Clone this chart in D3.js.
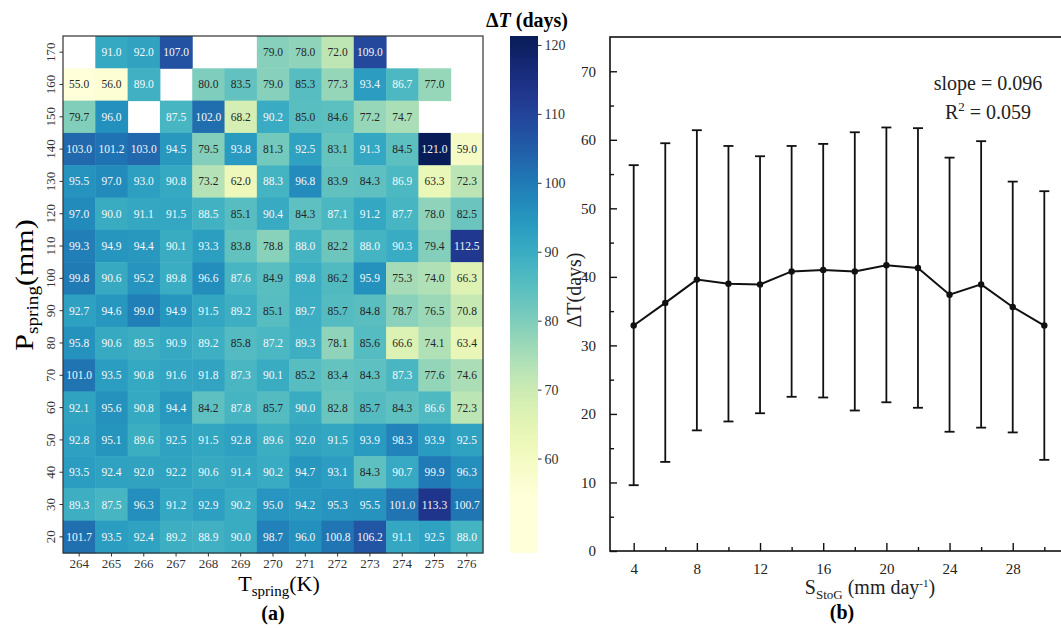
<!DOCTYPE html>
<html>
<head>
<meta charset="utf-8">
<script src="https://cdn.jsdelivr.net/npm/d3@7"></script>
<style>
  body { margin: 0; background: #fff; }
  svg { font-family: "Liberation Serif", "DejaVu Serif", serif; }
</style>
</head>
<body>
<svg id="chart" width="1061" height="628"></svg>
<script>
// panel (a): heatmap, rows top -> bottom
const tSpring = [264, 265, 266, 267, 268, 269, 270, 271, 272, 273, 274, 275, 276];
const pSpring = [170, 160, 150, 140, 130, 120, 110, 100, 90, 80, 70, 60, 50, 40, 30, 20];
const deltaT = [
  [null, 91.0, 92.0, 107.0, null, null, 79.0, 78.0, 72.0, 109.0, null, null, null],
  [55.0, 56.0, 89.0, null, 80.0, 83.5, 79.0, 85.3, 77.3, 93.4, 86.7, 77.0, null],
  [79.7, 96.0, null, 87.5, 102.0, 68.2, 90.2, 85.0, 84.6, 77.2, 74.7, null, null],
  [103.0, 101.2, 103.0, 94.5, 79.5, 93.8, 81.3, 92.5, 83.1, 91.3, 84.5, 121.0, 59.0],
  [95.5, 97.0, 93.0, 90.8, 73.2, 62.0, 88.3, 96.8, 83.9, 84.3, 86.9, 63.3, 72.3],
  [97.0, 90.0, 91.1, 91.5, 88.5, 85.1, 90.4, 84.3, 87.1, 91.2, 87.7, 78.0, 82.5],
  [99.3, 94.9, 94.4, 90.1, 93.3, 83.8, 78.8, 88.0, 82.2, 88.0, 90.3, 79.4, 112.5],
  [99.8, 90.6, 95.2, 89.8, 96.6, 87.6, 84.9, 89.8, 86.2, 95.9, 75.3, 74.0, 66.3],
  [92.7, 94.6, 99.0, 94.9, 91.5, 89.2, 85.1, 89.7, 85.7, 84.8, 78.7, 76.5, 70.8],
  [95.8, 90.6, 89.5, 90.9, 89.2, 85.8, 87.2, 89.3, 78.1, 85.6, 66.6, 74.1, 63.4],
  [101.0, 93.5, 90.8, 91.6, 91.8, 87.3, 90.1, 85.2, 83.4, 84.3, 87.3, 77.6, 74.6],
  [92.1, 95.6, 90.8, 94.4, 84.2, 87.8, 85.7, 90.0, 82.8, 85.7, 84.3, 86.6, 72.3],
  [92.8, 95.1, 89.6, 92.5, 91.5, 92.8, 89.6, 92.0, 91.5, 93.9, 98.3, 93.9, 92.5],
  [93.5, 92.4, 92.0, 92.2, 90.6, 91.4, 90.2, 94.7, 93.1, 84.3, 90.7, 99.9, 96.3],
  [89.3, 87.5, 96.3, 91.2, 92.9, 90.2, 95.0, 94.2, 95.3, 95.5, 101.0, 113.3, 100.7],
  [101.7, 93.5, 92.4, 89.2, 88.9, 90.0, 98.7, 96.0, 100.8, 106.2, 91.1, 92.5, 88.0]
];
const colorTicks = [60, 70, 80, 90, 100, 110, 120];

// panel (b): mean and error bar ends
const sStoG = [4, 6, 8, 10, 12, 14, 16, 18, 20, 22, 24, 26, 28, 30];
const meanDT = [32.9, 36.2, 39.6, 39.0, 38.9, 40.8, 41.0, 40.8, 41.7, 41.3, 37.4, 38.9, 35.6, 32.9];
const upperDT = [56.3, 59.5, 61.4, 59.1, 57.6, 59.1, 59.4, 61.1, 61.8, 61.7, 57.4, 59.8, 53.9, 52.5];
const lowerDT = [9.6, 13.0, 17.6, 18.9, 20.1, 22.5, 22.4, 20.5, 21.7, 20.9, 17.4, 18.0, 17.3, 13.3];
const yTicksB = [0, 10, 20, 30, 40, 50, 60, 70];
const xTicksB = [4, 8, 12, 16, 20, 24, 28];

document.addEventListener("DOMContentLoaded", function () {
  const svg = d3.select("#chart");

  // ---------- heatmap ----------
  const hm = { left: 63, top: 36, width: 420, height: 517 };
  const g = svg.append("g").attr("transform", `translate(${hm.left},${hm.top})`);

  const x = d3.scaleBand().domain(tSpring).range([0, hm.width]);
  const y = d3.scaleBand().domain(pSpring).range([0, hm.height]);
  const color = d3.scaleSequential(d3.interpolateYlGnBu).domain([55, 121]).clamp(true);

  const cells = [];
  pSpring.forEach((p, i) => {
    tSpring.forEach((t, j) => {
      if (deltaT[i][j] != null) cells.push({ t: t, p: p, v: deltaT[i][j] });
    });
  });

  g.selectAll(".cell")
    .data(cells)
    .enter()
    .append("rect")
    .attr("class", "cell")
    .attr("x", (d) => x(d.t))
    .attr("y", (d) => y(d.p))
    .attr("width", x.bandwidth() + 0.5)
    .attr("height", y.bandwidth() + 0.5)
    .style("fill", (d) => color(d.v));

  g.selectAll(".lbl")
    .data(cells)
    .enter()
    .append("text")
    .attr("class", "lbl")
    .attr("x", (d) => x(d.t) + x.bandwidth() / 2)
    .attr("y", (d) => y(d.p) + y.bandwidth() / 2 + 4)
    .attr("text-anchor", "middle")
    .style("font-size", "11.5px")
    .style("fill", (d) => (d.v > 86.4 ? "#f4f8fb" : "#262626"))
    .text((d) => d.v.toFixed(1));

  g.append("rect")
    .attr("width", hm.width)
    .attr("height", hm.height)
    .attr("fill", "none")
    .attr("stroke", "#333")
    .attr("stroke-width", 1.2);

  const xAxis = g.append("g")
    .attr("transform", `translate(0,${hm.height})`)
    .call(d3.axisBottom(x).tickSize(3.5).tickSizeOuter(0).tickPadding(2));
  xAxis.select(".domain").remove();
  xAxis.selectAll("text").style("font-size", "13px").style("font-family", "Liberation Serif").attr("fill", "#333");
  xAxis.selectAll("line").attr("stroke", "#333");

  const yAxis = g.append("g").call(d3.axisLeft(y).tickSize(3.5).tickSizeOuter(0));
  yAxis.select(".domain").remove();
  yAxis.selectAll("line").attr("stroke", "#333");
  yAxis.selectAll("text")
    .style("font-size", "13px")
    .style("font-family", "Liberation Serif")
    .attr("fill", "#333")
    .attr("text-anchor", "middle")
    .attr("x", null)
    .attr("dy", null)
    .attr("transform", "translate(-8,0) rotate(-90)");

  // axis labels
  const yl = svg.append("text")
    .attr("transform", "translate(33,285) rotate(-90) scale(1.2,1)")
    .attr("text-anchor", "middle")
    .style("font-size", "25px");
  yl.append("tspan").text("P");
  yl.append("tspan").attr("dy", 5).style("font-size", "16px").text("spring");
  yl.append("tspan").attr("dy", -5).text("(mm)");

  const xl = svg.append("text")
    .attr("x", 279)
    .attr("y", 591)
    .attr("text-anchor", "middle")
    .style("font-size", "22px");
  xl.append("tspan").text("T");
  xl.append("tspan").attr("dy", 5).style("font-size", "15px").text("spring");
  xl.append("tspan").attr("dy", -5).text("(K)");

  svg.append("text")
    .attr("x", hm.left + hm.width / 2)
    .attr("y", 620)
    .attr("text-anchor", "middle")
    .style("font-size", "20px")
    .style("font-weight", "bold")
    .text("(a)");

  // ---------- colorbar ----------
  const cb = { left: 510, top: 36, width: 28, height: 517 };
  const cScale = d3.scaleLinear().domain([46.3, 121.3]).range([cb.top + cb.height, cb.top]);
  const defs = svg.append("defs");
  const grad = defs.append("linearGradient")
    .attr("id", "cbgrad")
    .attr("x1", 0).attr("y1", 1).attr("x2", 0).attr("y2", 0);
  d3.range(0, 1.0001, 0.025).forEach((s) => {
    const v = cScale.invert(cb.top + cb.height - s * cb.height);
    grad.append("stop").attr("offset", s).attr("stop-color", color(v));
  });
  svg.append("rect")
    .attr("x", cb.left).attr("y", cb.top)
    .attr("width", cb.width).attr("height", cb.height)
    .attr("fill", "url(#cbgrad)");

  const cAxis = svg.append("g")
    .attr("transform", `translate(${cb.left + cb.width},0)`)
    .call(d3.axisRight(cScale).tickValues(colorTicks).tickSize(3.5));
  cAxis.select(".domain").remove();
  cAxis.selectAll("line").attr("stroke", "#333");
  cAxis.selectAll("text").style("font-size", "14px").style("font-family", "Liberation Serif").attr("fill", "#333");

  const ct = svg.append("text")
    .attr("x", 527)
    .attr("y", 27)
    .attr("text-anchor", "middle")
    .style("font-size", "20px")
    .style("font-weight", "bold");
  ct.append("tspan").text("Δ");
  ct.append("tspan").style("font-style", "italic").text("T");
  ct.append("tspan").text(" (days)");

  // ---------- panel (b) ----------
  const pb = { left: 610, right: 1068, top: 37, bottom: 551 };
  const xb = d3.scaleLinear().domain([2.5, 31.5]).range([pb.left, pb.right]);
  const yb = d3.scaleLinear().domain([0, 75]).range([pb.bottom, pb.top]);
  const b = svg.append("g");

  // frame
  b.append("rect")
    .attr("x", pb.left).attr("y", pb.top)
    .attr("width", pb.right - pb.left).attr("height", pb.bottom - pb.top)
    .attr("fill", "none").attr("stroke", "#111").attr("stroke-width", 1.6);

  // inward ticks
  const yAxB = b.append("g")
    .attr("transform", `translate(${pb.left},0)`)
    .call(d3.axisLeft(yb).tickValues(yTicksB).tickSize(-7).tickPadding(14).tickFormat(d3.format("d")));
  yAxB.select(".domain").remove();
  yAxB.selectAll("line").attr("stroke", "#111").attr("stroke-width", 1.4);
  yAxB.selectAll("text").style("font-size", "15px").style("font-family", "Liberation Serif").attr("fill", "#222");
  const yMinor = b.append("g")
    .attr("transform", `translate(${pb.left},0)`)
    .call(d3.axisLeft(yb).tickValues(d3.range(5, 75, 10)).tickSize(-4).tickFormat(""));
  yMinor.select(".domain").remove();
  yMinor.selectAll("line").attr("stroke", "#111").attr("stroke-width", 1.4);

  const xAxB = b.append("g")
    .attr("transform", `translate(0,${pb.bottom})`)
    .call(d3.axisBottom(xb).tickValues(xTicksB).tickSize(-8).tickPadding(12));
  xAxB.select(".domain").remove();
  xAxB.selectAll("line").attr("stroke", "#111").attr("stroke-width", 1.4);
  xAxB.selectAll("text").style("font-size", "15px").style("font-family", "Liberation Serif").attr("fill", "#222");
  const xMinor = b.append("g")
    .attr("transform", `translate(0,${pb.bottom})`)
    .call(d3.axisBottom(xb).tickValues(d3.range(6, 31, 4)).tickSize(-4).tickFormat(""));
  xMinor.select(".domain").remove();
  xMinor.selectAll("line").attr("stroke", "#111").attr("stroke-width", 1.4);

  const pts = sStoG.map((s, i) => ({ s: s, m: meanDT[i], lo: lowerDT[i], hi: upperDT[i] }));

  // error bars
  b.selectAll(".err")
    .data(pts)
    .enter()
    .append("line")
    .attr("x1", (d) => xb(d.s)).attr("x2", (d) => xb(d.s))
    .attr("y1", (d) => yb(d.lo)).attr("y2", (d) => yb(d.hi))
    .attr("stroke", "#111").attr("stroke-width", 1.8);
  ["lo", "hi"].forEach((k) => {
    b.selectAll(".cap-" + k)
      .data(pts)
      .enter()
      .append("line")
      .attr("x1", (d) => xb(d.s) - 5).attr("x2", (d) => xb(d.s) + 5)
      .attr("y1", (d) => yb(d[k])).attr("y2", (d) => yb(d[k]))
      .attr("stroke", "#111").attr("stroke-width", 1.8);
  });

  b.append("path")
    .datum(pts)
    .attr("fill", "none")
    .attr("stroke", "#111")
    .attr("stroke-width", 2)
    .attr("d", d3.line().x((d) => xb(d.s)).y((d) => yb(d.m)));

  b.selectAll(".pt")
    .data(pts)
    .enter()
    .append("circle")
    .attr("cx", (d) => xb(d.s))
    .attr("cy", (d) => yb(d.m))
    .attr("r", 3.2)
    .attr("fill", "#111");

  // annotation
  b.append("text")
    .attr("x", 988).attr("y", 90)
    .attr("text-anchor", "middle")
    .style("font-size", "20px")
    .attr("fill", "#222")
    .text("slope = 0.096");
  const r2 = b.append("text")
    .attr("x", 988).attr("y", 119)
    .attr("text-anchor", "middle")
    .style("font-size", "20px")
    .attr("fill", "#222");
  r2.append("tspan").text("R");
  r2.append("tspan").attr("dy", -8).style("font-size", "13px").text("2");
  r2.append("tspan").attr("dy", 8).text(" = 0.059");

  // labels
  b.append("text")
    .attr("transform", "translate(581,290) rotate(-90)")
    .attr("text-anchor", "middle")
    .style("font-size", "20px")
    .attr("fill", "#222")
    .text("ΔT(days)");

  const xlb = b.append("text")
    .attr("x", 870).attr("y", 594)
    .attr("text-anchor", "middle")
    .style("font-size", "20px")
    .attr("fill", "#222");
  xlb.append("tspan").text("S");
  xlb.append("tspan").attr("dy", 5).style("font-size", "13px").text("StoG");
  xlb.append("tspan").attr("dy", -5).text(" (mm day");
  xlb.append("tspan").attr("dy", -7).style("font-size", "11px").text("-1");
  xlb.append("tspan").attr("dy", 7).text(")");

  b.append("text")
    .attr("x", 842).attr("y", 619)
    .attr("text-anchor", "middle")
    .style("font-size", "20px")
    .style("font-weight", "bold")
    .text("(b)");
});
</script>
</body>
</html>
